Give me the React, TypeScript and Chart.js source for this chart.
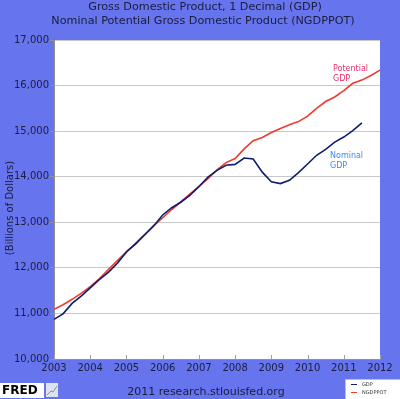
import React, { useEffect, useRef } from "react";
import { Chart, registerables } from "chart.js";

Chart.register(...registerables);

const titleLines = [
  "Gross Domestic Product, 1 Decimal (GDP)",
  "Nominal Potential Gross Domestic Product (NGDPPOT)",
];
const yTitle = "(Billions of Dollars)";
const footerText = "2011 research.stlouisfed.org";

const startYear = 2003;
const yearTicks = [2003, 2004, 2005, 2006, 2007, 2008, 2009, 2010, 2011, 2012];

// Quarterly GDP, 2003Q1 .. 2011Q3 (billions of dollars)
const gdpValues = [
  10870, 10990, 11220, 11380,
  11560, 11740, 11900, 12100,
  12350, 12520, 12720, 12920,
  13160, 13320, 13440, 13590,
  13780, 13990, 14140, 14250,
  14270, 14410, 14390, 14100,
  13890, 13850, 13920, 14090,
  14280, 14470, 14600, 14760,
  14870, 15010, 15180,
];

// Quarterly nominal potential GDP, 2003Q1 .. 2012Q1
const potValues = [
  11090, 11190, 11310, 11440,
  11590, 11760, 11960, 12160,
  12350, 12540, 12730, 12920,
  13100, 13280, 13450, 13620,
  13790, 13960, 14150, 14310,
  14400, 14610, 14790, 14860,
  14970, 15060, 15140, 15210,
  15330, 15500, 15650, 15750,
  15890, 16050, 16120, 16220,
  16340,
];

const toPoints = (vals: number[]) =>
  vals.map((v, i) => ({ x: startYear + i / 4, y: v }));

const BG = "#6675ee";
const TEXT = "#1c1c3c";
const GDP_COLOR = "#0f1d6c";
const POT_COLOR = "#ee3b2e";
const FONT = "'DejaVu Sans', Verdana, sans-serif";

const decorPlugin = {
  id: "decor",
  beforeDraw(chart: any) {
    const { ctx, width, height, chartArea } = chart;
    ctx.save();
    ctx.fillStyle = BG;
    ctx.fillRect(0, 0, width, height);
    ctx.fillStyle = "#ffffff";
    ctx.fillRect(chartArea.left, chartArea.top, chartArea.right - chartArea.left, chartArea.bottom - chartArea.top);
    ctx.restore();
  },
  afterDraw(chart: any) {
    const { ctx, chartArea, scales } = chart;
    const xs = scales.x;
    ctx.save();
    // titles
    ctx.fillStyle = TEXT;
    ctx.font = `11.2px ${FONT}`;
    ctx.textAlign = "center";
    ctx.textBaseline = "middle";
    ctx.fillText(titleLines[0], 205, 7);
    ctx.fillText(titleLines[1], 203, 21);
    // y title
    ctx.save();
    ctx.font = `10px ${FONT}`;
    ctx.translate(10, 208);
    ctx.rotate(-Math.PI / 2);
    ctx.fillText(yTitle, 0, 0);
    ctx.restore();
    // inward x ticks
    ctx.strokeStyle = "#a0a0a0";
    ctx.lineWidth = 1;
    yearTicks.forEach((yr) => {
      const px = Math.round(xs.getPixelForValue(yr)) + 0.5;
      ctx.beginPath();
      ctx.moveTo(px, chartArea.bottom);
      ctx.lineTo(px, chartArea.bottom - 4);
      ctx.stroke();
    });
    // annotations
    ctx.textAlign = "left";
    ctx.font = `8px ${FONT}`;
    ctx.fillStyle = "#e8306a";
    ctx.fillText("Potential", 333, 69);
    ctx.fillText("GDP", 333, 79);
    ctx.fillStyle = "#3a8cf0";
    ctx.fillText("Nominal", 330, 156);
    ctx.fillText("GDP", 330, 166);
    // footer
    ctx.fillStyle = TEXT;
    ctx.font = `11px ${FONT}`;
    ctx.textAlign = "center";
    ctx.fillText(footerText, 206, 392);
    // FRED logo
    ctx.fillStyle = "#ffffff";
    ctx.fillRect(0, 383, 44, 15);
    ctx.fillStyle = "#000000";
    ctx.font = `bold 12px ${FONT}`;
    ctx.textAlign = "left";
    ctx.fillText("FRED", 2, 391);
    ctx.fillStyle = "#dde3f0";
    ctx.fillRect(46, 383, 12, 14);
    ctx.strokeStyle = "#7a9a7a";
    ctx.beginPath();
    ctx.moveTo(47, 395);
    ctx.lineTo(51, 391);
    ctx.lineTo(53, 392);
    ctx.lineTo(57, 386);
    ctx.stroke();
    // legend box
    ctx.fillStyle = "#ffffff";
    ctx.fillRect(345, 379, 55, 20);
    ctx.strokeStyle = "#c0c0c0";
    ctx.strokeRect(345.5, 379.5, 55, 20);
    ctx.lineWidth = 1;
    ctx.strokeStyle = GDP_COLOR;
    ctx.beginPath();
    ctx.moveTo(351, 384.5);
    ctx.lineTo(357, 384.5);
    ctx.stroke();
    ctx.strokeStyle = POT_COLOR;
    ctx.beginPath();
    ctx.moveTo(351, 392.5);
    ctx.lineTo(357, 392.5);
    ctx.stroke();
    ctx.fillStyle = "#333333";
    ctx.font = `5px ${FONT}`;
    ctx.fillText("GDP", 362, 384.5);
    ctx.fillText("NGDPPOT", 362, 392.5);
    ctx.restore();
  },
};

export default function App() {
  const ref = useRef<HTMLCanvasElement | null>(null);
  useEffect(() => {
    document.body.style.margin = "0";
    const canvas = ref.current!;
    const chart = new Chart(canvas, {
      type: "line",
      data: {
        datasets: [
          {
            label: "GDP",
            data: toPoints(gdpValues),
            borderColor: GDP_COLOR,
            borderWidth: 1.6,
            pointRadius: 0,
            tension: 0,
          },
          {
            label: "NGDPPOT",
            data: toPoints(potValues),
            borderColor: POT_COLOR,
            borderWidth: 1.6,
            pointRadius: 0,
            tension: 0,
          },
        ],
      },
      options: {
        animation: false,
        responsive: false,
        events: [],
        layout: { padding: { left: 0, top: 40, right: 20, bottom: 0 } },
        plugins: { legend: { display: false }, tooltip: { enabled: false } },
        scales: {
          x: {
            type: "linear",
            min: 2003,
            max: 2012,
            afterFit: (s: any) => { s.height = 40; },
            afterBuildTicks: (s: any) => { s.ticks = yearTicks.map((v) => ({ value: v })); },
            ticks: {
              autoSkip: false,
              maxRotation: 0,
              padding: 3,
              color: TEXT,
              font: { family: FONT, size: 10 },
              callback: (v: any) => String(v),
            },
            grid: { display: true, drawOnChartArea: false, drawTicks: false },
            border: { color: "#909090" },
          },
          y: {
            min: 10000,
            max: 17000,
            afterFit: (s: any) => { s.width = 54; },
            ticks: {
              stepSize: 1000,
              padding: 1,
              color: TEXT,
              font: { family: FONT, size: 10 },
              callback: (v: any) => Number(v).toLocaleString("en-US"),
            },
            grid: { color: "#c8c8c8", tickLength: 4, tickColor: "#909090" },
            border: { color: "#909090" },
          },
        },
      },
      plugins: [decorPlugin],
    });
    return () => chart.destroy();
  }, []);
  return <canvas ref={ref} width={400} height={399} style={{ display: "block" }} />;
}
